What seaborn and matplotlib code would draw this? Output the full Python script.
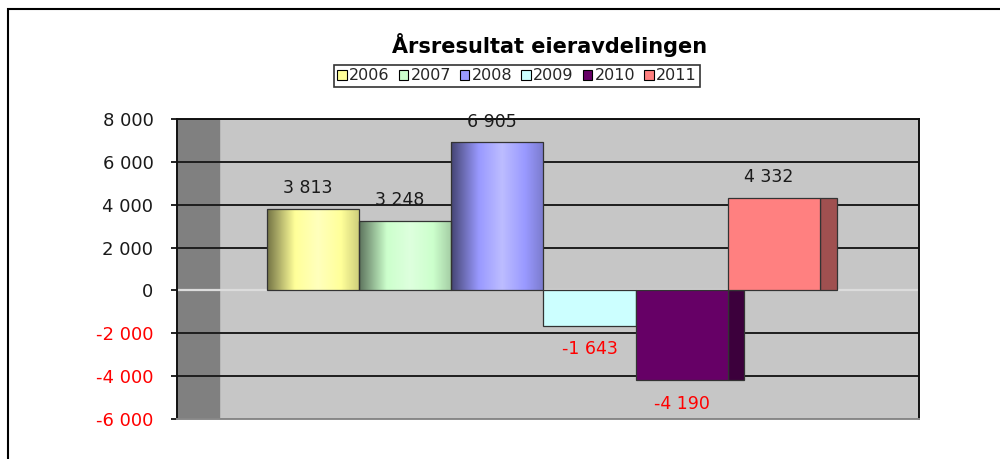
import numpy as np
import pandas as pd
import matplotlib
matplotlib.use("Agg")
import matplotlib.pyplot as plt
from matplotlib.patches import Patch, Rectangle
from matplotlib.colors import LinearSegmentedColormap, to_rgb
import seaborn as sns

# chart data
years = ["2006", "2007", "2008", "2009", "2010", "2011"]
results = [3813, 3248, 6905, -1643, -4190, 4332]
bar_colors = ["#FFFF99", "#CCFFCC", "#9999FF", "#CCFFFF", "#660066", "#FF8080"]
side_colors = {"2010": "#3C003C", "2011": "#A05050"}
gradient_years = ["2006", "2007", "2008"]
y_ticks = [-6000, -4000, -2000, 0, 2000, 4000, 6000, 8000]
title = "Årsresultat eieravdelingen"


def fmt(v):
    return f"{v:,}".replace(",", " ")


def shade(c, f):
    r, g, b = to_rgb(c)
    return (r * f, g * f, b * f)


def tint(c, f):
    r, g, b = to_rgb(c)
    return (r + (1 - r) * f, g + (1 - g) * f, b + (1 - b) * f)


sns.set_theme(style="white")
plt.rcParams["font.family"] = ["DejaVu Sans"]

df = pd.DataFrame({"year": years, "value": results})

fig = plt.figure(figsize=(10, 4.59), dpi=100)
ax = fig.add_axes([0.177, 1 - 419 / 459, 0.742, 300 / 459])

sns.barplot(data=df, x="year", y="value", hue="year", palette=bar_colors,
            width=1, saturation=1, legend=False, ax=ax,
            edgecolor="#333333", linewidth=0.9, zorder=2)

# walls of the pseudo 3D chart
ax.set_facecolor("#C6C6C6")
ax.add_patch(Rectangle((0, 0), 0.0566, 1, transform=ax.transAxes,
                       color="#808080", zorder=0.5))
for y in y_ticks:
    if y == 0:
        ax.axhline(y, color="#DCDCDC", lw=1.6, zorder=0.8)
    else:
        ax.axhline(y, color="#1E1E1E", lw=1.4, zorder=0.8)

bars = [c[0] for c in ax.containers]

# shaded gradient on first three bars
for year, p in zip(years, bars):
    if year not in gradient_years:
        continue
    base = bar_colors[years.index(year)]
    cmap = LinearSegmentedColormap.from_list(
        "g", [(0, shade(base, 0.45)), (0.3, base), (0.55, tint(base, 0.35)),
              (0.8, base), (1, shade(base, 0.8))])
    x0, y0 = p.get_x(), p.get_y()
    w, h = p.get_width(), p.get_height()
    grad = np.linspace(0, 1, 256).reshape(1, -1)
    im = ax.imshow(grad, cmap=cmap, aspect="auto", zorder=1.9,
                   extent=(x0, x0 + w, y0, y0 + h))
    im.set_clip_path(p)
    p.set_facecolor("none")

# visible side faces on the last bars
for year, p in zip(years, bars):
    if year in side_colors:
        ax.add_patch(Rectangle((p.get_x() + p.get_width(), p.get_y()), 0.18,
                               p.get_height(), facecolor=side_colors[year],
                               edgecolor="#333333", lw=0.9, zorder=1.95))

# value labels
for v, p in zip(results, bars):
    cx = p.get_x() + p.get_width() / 2
    if v >= 0:
        ax.annotate(fmt(v), (cx - 0.06, v), xytext=(0, 15), textcoords="offset points",
                    ha="center", va="center", fontsize=12.5, color="#1A1A1A", zorder=5)
    else:
        ax.annotate(fmt(v), (cx, v), xytext=(0, -17), textcoords="offset points",
                    ha="center", va="center", fontsize=12.5, color="#FF0000", zorder=5)

ax.set_xlim(-1.476, 6.574)
ax.set_ylim(min(y_ticks), max(y_ticks))
ax.set_yticks(y_ticks)
ax.set_yticklabels([fmt(v) for v in y_ticks], fontsize=13)
for lab, v in zip(ax.get_yticklabels(), y_ticks):
    lab.set_color("#FF0000" if v < 0 else "#1A1A1A")
ax.tick_params(axis="y", direction="out", length=4, width=1.2, color="black",
               pad=13, left=True)
ax.set_xticks([])
ax.set_xlabel("")
ax.set_ylabel("")

for s in ["left", "right", "top"]:
    ax.spines[s].set_visible(True)
    ax.spines[s].set_color("#111111")
    ax.spines[s].set_linewidth(1.4)
ax.spines["bottom"].set_color("#8A8A8A")
ax.spines["bottom"].set_linewidth(1.4)

# title and legend
fig.text(0.55, 1 - 45 / 459, title, ha="center", va="center",
         fontsize=15, fontweight="bold", color="black")
handles = [Patch(facecolor=c, edgecolor="black", lw=0.8) for c in bar_colors]
leg = fig.legend(handles, years, loc="center", bbox_to_anchor=(0.517, 1 - 76 / 459),
                 ncol=6, fontsize=11.5, frameon=True, fancybox=False,
                 handlelength=0.6, handleheight=0.6, handletextpad=0.15,
                 columnspacing=0.55, borderpad=0.2, borderaxespad=0)
leg.get_frame().set_edgecolor("black")
leg.get_frame().set_linewidth(1.2)

# outer frame of the chart object
fig.add_artist(Rectangle((0.008, -0.2), 1.2, 1.2 - 9 / 459, transform=fig.transFigure,
                         fill=False, edgecolor="black", lw=1.5))

fig.savefig("out.png", dpi=100)
